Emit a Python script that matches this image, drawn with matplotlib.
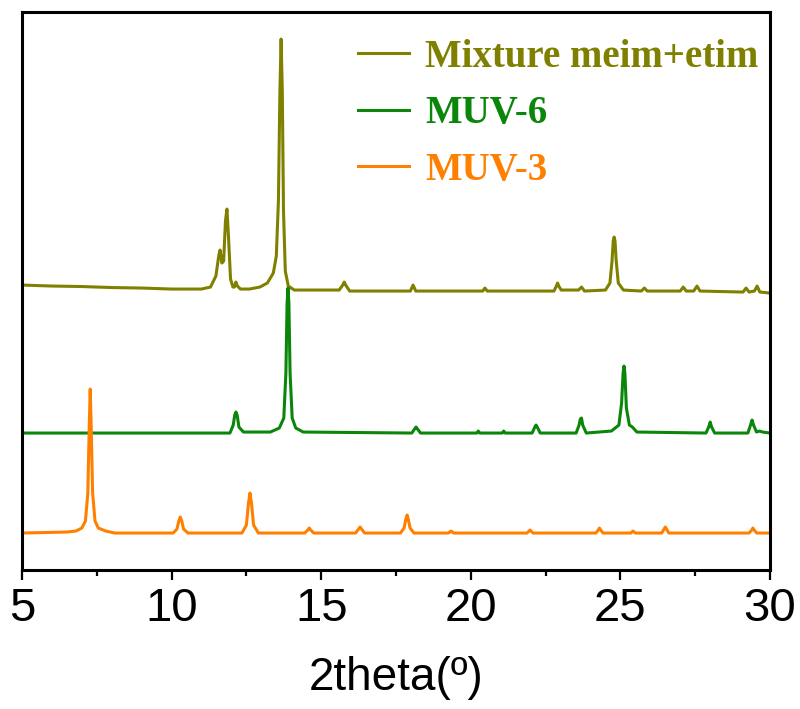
import matplotlib
matplotlib.use("Agg")
import matplotlib.pyplot as plt
from matplotlib.ticker import MultipleLocator

# XRD patterns, 2theta (deg) and intensity above each baseline (a.u.)
muv3_x = [5.0, 6.5, 6.8, 7.0, 7.12, 7.2, 7.25, 7.28, 7.31, 7.36, 7.44, 7.55, 7.8, 8.1,
          10.05, 10.18, 10.24, 10.29, 10.34, 10.4, 10.55,
          12.35, 12.5, 12.57, 12.62, 12.67, 12.74, 12.9,
          14.45, 14.55, 14.6, 14.65, 14.75,
          16.15, 16.25, 16.3, 16.35, 16.45,
          17.65, 17.77, 17.83, 17.87, 17.91, 17.97, 18.1,
          19.25, 19.34, 19.43, 21.88, 21.98, 22.08,
          24.18, 24.26, 24.3, 24.34, 24.42, 25.35, 25.42, 25.5,
          26.38, 26.46, 26.5, 26.54, 26.62,
          29.3, 29.39, 29.43, 29.47, 29.56, 30.0]
muv3_y = [0, 1, 2, 5, 12, 40, 110, 144, 110, 40, 12, 5, 2, 0,
          0, 4, 12, 16, 12, 4, 0,
          0, 8, 30, 40, 30, 8, 0,
          0, 3, 5, 3, 0,
          0, 4, 6, 4, 0,
          0, 5, 14, 18, 14, 5, 0,
          0, 2, 0, 0, 3, 0,
          0, 3, 5, 3, 0, 0, 2, 0,
          0, 4, 6, 4, 0,
          0, 3, 5, 3, 0, 0]

muv6_x = [5.0, 11.95, 12.06, 12.11, 12.15, 12.19, 12.25, 12.4,
          13.3, 13.6, 13.75, 13.82, 13.86, 13.89, 13.92, 13.96, 14.03, 14.15, 14.4,
          18.03, 18.12, 18.17, 18.22, 18.32, 20.2, 20.25, 20.3, 21.05, 21.1, 21.15,
          22.05, 22.14, 22.18, 22.22, 22.32,
          23.52, 23.62, 23.66, 23.7, 23.74, 23.86,
          24.7, 24.95, 25.04, 25.09, 25.12, 25.15, 25.2, 25.3, 25.4, 25.55,
          27.86, 27.95, 28.0, 28.05, 28.15,
          29.26, 29.35, 29.4, 29.45, 29.55, 29.65, 29.75, 30.0]
muv6_y = [0, 0, 8, 18, 21, 18, 6, 1,
          1, 5, 15, 60, 130, 145, 130, 60, 15, 5, 1,
          0, 4, 6, 4, 0, 0, 2, 0, 0, 2, 0,
          0, 6, 8, 6, 0,
          0, 8, 14, 15, 8, 0,
          2, 8, 30, 60, 67, 60, 25, 8, 6, 1,
          0, 6, 11, 6, 0,
          0, 8, 13, 8, 1, 2, 1, 0]

mix_x = [5.0, 6.0, 7.0, 8.0, 9.0, 10.0, 11.0,
         11.3, 11.48, 11.58, 11.62, 11.68, 11.74, 11.8, 11.85, 11.9, 11.97, 12.05,
         12.1, 12.15, 12.2, 12.3,
         12.6, 12.95, 13.2, 13.4, 13.5, 13.57, 13.62, 13.66, 13.7, 13.74, 13.8, 13.9, 14.1,
         15.6, 15.72, 15.77, 15.82, 15.95, 17.98, 18.07, 18.16,
         20.4, 20.47, 20.55, 22.78, 22.86, 22.9, 22.94, 23.02, 23.6, 23.7, 23.8,
         24.5, 24.65, 24.72, 24.76, 24.79, 24.82, 24.86, 24.93, 25.1,
         25.7, 25.8, 25.9, 27.0, 27.1, 27.2, 27.45, 27.56, 27.66,
         29.1, 29.2, 29.3, 29.48, 29.57, 29.66, 30.0]
mix_y = [6, 5, 4.5, 3.5, 3, 2, 2,
         4, 15, 36, 41, 28, 30, 70, 82, 55, 12, 4,
         4, 9, 5, 2,
         2, 4, 8, 18, 35, 90, 200, 252, 200, 80, 20, 5, 1,
         1, 6, 9, 6, 0, 0, 6, 0,
         0, 3, 0, 0, 5, 8, 5, 1, 1, 4, 0,
         1, 8, 30, 50, 54, 50, 30, 8, 1,
         0, 3, 0, 0, 4, 0, 0, 5, 0,
         -1, 3, -1, 0, 5, -1, -2]

labels = ["Mixture meim+etim", "MUV-6", "MUV-3"]
colors = ["#808000", "#0a870a", "#ff8000"]
offsets = [279, 137, 37]

fig = plt.figure(figsize=(8, 7.09), dpi=100)
ax = fig.add_axes([0.0275, 0.196, 0.935, 0.787])

series = [(mix_x, mix_y), (muv6_x, muv6_y), (muv3_x, muv3_y)]
for (xs, ys), lab, c, off in zip(series, labels, colors, offsets):
    ax.plot(xs, [v + off for v in ys], color=c, lw=2.2, label=lab)

ax.set_xlim(5, 30)
ax.set_ylim(0, 558)
ax.set_yticks([])
ax.xaxis.set_major_locator(MultipleLocator(5))
ax.xaxis.set_minor_locator(MultipleLocator(2.5))
ax.tick_params(axis="x", which="major", direction="out", length=7.5, width=1.6, pad=5)
ax.tick_params(axis="x", which="minor", direction="out", length=4, width=1.6)
for s in ax.spines.values():
    s.set_linewidth(2.2)

sans = ["Liberation Sans Narrow", "Liberation Sans"]
for t in ax.get_xticklabels():
    t.set_fontfamily(sans)
    t.set_fontsize(34)
ax.set_xlabel("2theta(º)", family=sans, fontsize=33, labelpad=18)

leg = ax.legend(loc="upper left", bbox_to_anchor=(358 / 800, 1 - 39 / 709),
                bbox_transform=fig.transFigure, frameon=False,
                prop={"family": "Liberation Serif", "weight": "bold", "size": 28},
                handlelength=1.3, handletextpad=0.42, labelspacing=0.5,
                borderpad=0, borderaxespad=0, labelcolor="linecolor")

fig.savefig("out.png", dpi=100)
